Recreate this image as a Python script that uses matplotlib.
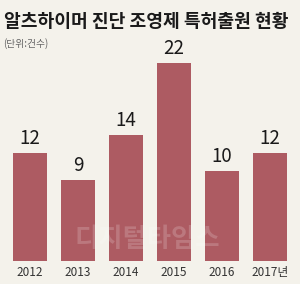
import matplotlib.pyplot as plt

plt.rcParams['font.family'] = ['Noto Sans CJK KR', 'DejaVu Sans']

# Data
years = ["2012", "2013", "2014", "2015", "2016", "2017년"]
counts = [12, 9, 14, 22, 10, 12]

bg = "#f4f2eb"
bar_color = "#ad5b62"

fig = plt.figure(figsize=(3.0, 2.84), dpi=100, facecolor=bg)
ax = fig.add_axes([0, 23 / 284, 1, 261 / 284])
ax.set_facecolor(bg)

x = range(len(years))
bars = ax.bar(x, counts, width=34 / 48, color=bar_color, zorder=2)
ax.set_xlim(-30 / 48, 270 / 48)
ax.set_ylim(0, 29)

for xi, v in zip(x, counts):
    ax.annotate(str(v), (xi, v), xytext=(0, 3), textcoords="offset points",
                ha="center", va="bottom", fontsize=13.5, color="#1a1a1a",
                family=['Liberation Sans Narrow', 'Noto Sans CJK KR', 'DejaVu Sans'])

ax.set_xticks(list(x))
ax.set_xticklabels(years, fontsize=8.5, color="#333333",
                   family=['Liberation Sans Narrow', 'Noto Sans CJK KR', 'DejaVu Sans'])
ax.tick_params(axis="x", length=0, pad=3.5)
ax.set_yticks([])
for s in ax.spines.values():
    s.set_visible(False)

# title and unit
fig.text(0.012, 0.925, "알츠하이머 진단 조영제 특허출원 현황", fontsize=13.1,
         fontweight="bold", color="#1a1a1a", ha="left", va="center")
fig.text(0.01, 0.845, "(단위:건수)", fontsize=7, color="#666666",
         ha="left", va="center")

# watermark
fig.text(0.49, 0.155, "디지털타임스", fontsize=19, fontweight="bold",
         color="#ffffff", alpha=0.18, ha="center", va="center", zorder=5)

fig.savefig("out.png", dpi=100, facecolor=bg)
